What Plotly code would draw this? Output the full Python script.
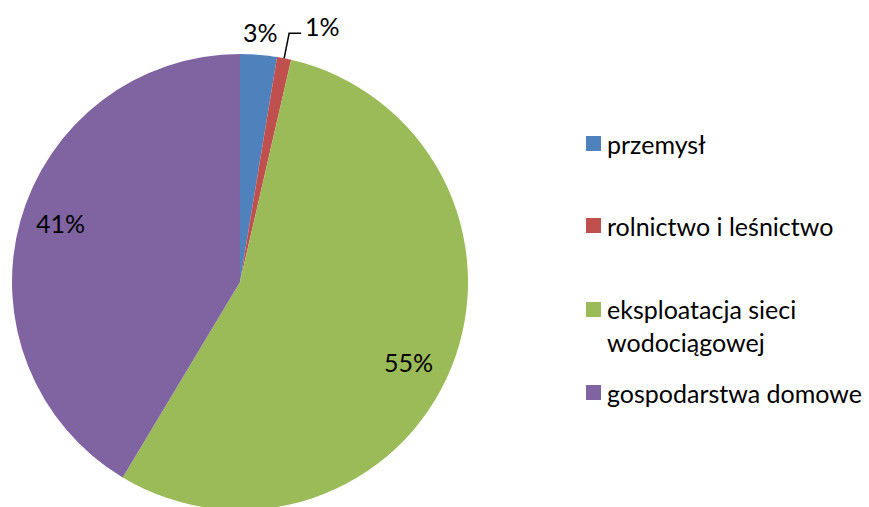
import math
import plotly.graph_objects as go

# ---- data ----
categories = ["przemysł", "rolnictwo i leśnictwo", "eksploatacja sieci wodociągowej", "gospodarstwa domowe"]
legend_labels = ["przemysł", "rolnictwo i leśnictwo", "eksploatacja sieci<br>wodociągowej", "gospodarstwa domowe"]
values = [2.6, 1.0, 55.0, 41.4]
pct_labels = ["3%", "1%", "55%", "41%"]
colors = ["#4F81BD", "#C0504D", "#9BBB59", "#8064A2"]

# ---- layout geometry (pixels) ----
W, H = 869, 514          # slightly taller than the window so the pie bottom is clipped
CX, CY, R = 240, 282, 228
FONT = "Lato"
FS = 25

def px(x):
    return min(1.0, max(0.0, x / W))

def py(y):
    return min(1.0, max(0.0, 1 - y / H))

fig = go.Figure()
fig.add_trace(go.Pie(
    labels=categories,
    values=values,
    sort=False,
    direction="clockwise",
    rotation=0,
    marker=dict(colors=colors, line=dict(width=0)),
    textinfo="none",
    hoverinfo="label+percent",
    showlegend=False,
    domain=dict(x=[px(CX - R), px(CX + R)], y=[py(CY + R), py(CY - R)]),
))

total = sum(values)
annotations = []
shapes = []
cum = 0.0
# label placement style per slice: (mode, radial factor, angular offset in degrees)
placement = [("out", 1.10, 0.0), ("leader", 1.0, 0.0), ("in", 0.82, 3.5), ("in", 0.83, 2.6)]
for v, lab, (mode, rf, dang) in zip(values, pct_labels, placement):
    mid = (cum + v / 2) / total * 2 * math.pi + math.radians(dang)
    cum += v
    s, c = math.sin(mid), math.cos(mid)
    if mode in ("in", "out"):
        x = CX + rf * R * s
        y = CY - rf * R * c
        annotations.append(dict(x=px(x), y=py(y), xref="paper", yref="paper",
                                text=lab, showarrow=False,
                                font=dict(family=FONT, size=FS, color="#000000"),
                                xanchor="center", yanchor="middle"))
    else:
        x0 = CX + R * s
        y0 = CY - R * c
        x1, y1 = x0 + 5, y0 - 25
        x2 = x1 + 12
        shapes.append(dict(type="path", xref="paper", yref="paper",
                           path=f"M {px(x0)} {py(y0)} L {px(x1)} {py(y1)} L {px(x2)} {py(y1)}",
                           line=dict(color="#000000", width=1.5)))
        annotations.append(dict(x=px(x2 + 2), y=py(y1 - 7), xref="paper", yref="paper",
                                text=lab, showarrow=False,
                                font=dict(family=FONT, size=FS, color="#000000"),
                                xanchor="left", yanchor="middle"))

# manual legend
leg_x = 586
leg_rows = [143.5, 225.5, 309.5, 392.5]
for lab, col, yc in zip(legend_labels, colors, leg_rows):
    shapes.append(dict(type="rect", xref="paper", yref="paper",
                       x0=px(leg_x), x1=px(leg_x + 15), y0=py(yc + 7.5), y1=py(yc - 7.5),
                       fillcolor=col, line=dict(width=0)))
    multi = "<br>" in lab
    annotations.append(dict(x=px(leg_x + 19), y=py(yc + (15.5 if multi else 0)),
                            xref="paper", yref="paper",
                            text=lab, showarrow=False, align="left",
                            font=dict(family=FONT, size=FS, color="#000000"),
                            xanchor="left", yanchor="middle"))

fig.update_layout(
    width=W, height=H,
    margin=dict(l=0, r=0, t=0, b=0),
    paper_bgcolor="#FFFFFF",
    plot_bgcolor="#FFFFFF",
    annotations=annotations,
    shapes=shapes,
    showlegend=False,
)

fig.write_html(
    "out.html",
    config={"displayModeBar": False},
    post_script="document.body.style.margin='0';document.body.style.overflow='hidden';",
)
